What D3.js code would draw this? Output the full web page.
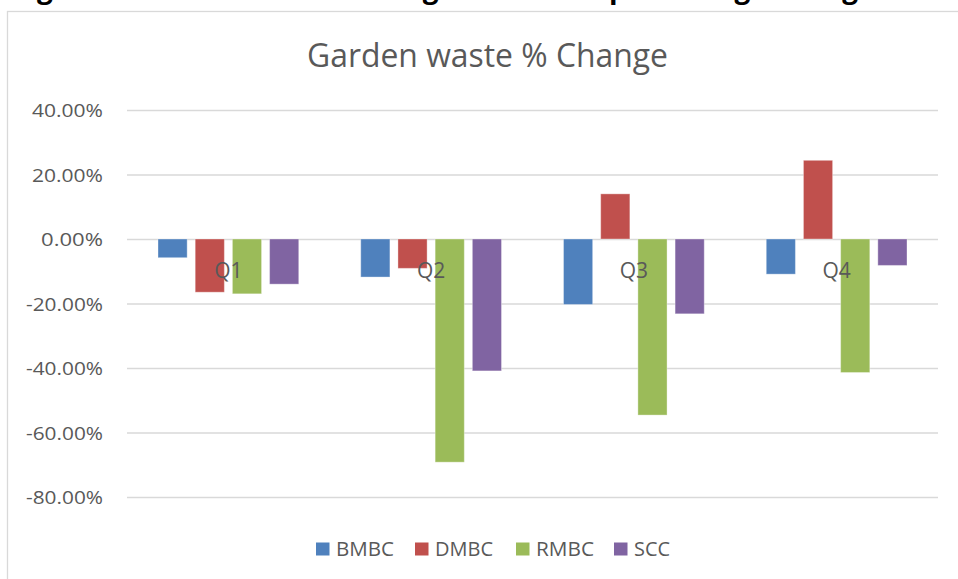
<!DOCTYPE html>
<html>
<head>
<meta charset="utf-8">
<script src="https://cdn.jsdelivr.net/npm/d3@7"></script>
<style>
  html, body { margin: 0; padding: 0; background: #fff; }
  svg { display: block; }
  text { font-family: "Open Sans", "Liberation Sans", sans-serif; }
</style>
</head>
<body>
<svg id="chart" width="958" height="579"></svg>
<script>
// ---- data ----
const categories = ["Q1", "Q2", "Q3", "Q4"];
const seriesNames = ["BMBC", "DMBC", "RMBC", "SCC"];
const BMBC = [-5.8, -11.8, -20.3, -10.9];
const DMBC = [-16.5, -9.1, 14.0, 24.4];
const RMBC = [-17.0, -69.2, -54.6, -41.4];
const SCC  = [-14.0, -40.9, -23.2, -8.2];
const tickValues = [40, 20, 0, -20, -40, -60, -80];
const seriesColors = ["#4F81BD", "#C0504D", "#9BBB59", "#8064A2"];
const chartTitle = "Garden waste % Change";
const captionParts = ["Figure 6: Garden waste tonnage \u2013", "percentage change"];

const seriesValues = [BMBC, DMBC, RMBC, SCC];
const rows = categories.map((c, i) => ({
  cat: c,
  vals: seriesNames.map((s, j) => ({ series: s, value: seriesValues[j][i], color: seriesColors[j] }))
}));

const svg = d3.select("#chart");
const W = 958, H = 579;
const grey = "#595959";

// caption (only its descenders show at the top edge, as in the reference)
const capTargets = [{ idx: 2, x: 37 }, { idx: 0, x: 609 }];
captionParts.forEach((t, k) => {
  const el = svg.append("text")
    .attr("y", -2.5)
    .attr("font-size", 28)
    .attr("font-weight", "bold")
    .attr("fill", "#000")
    .text(t);
  const node = el.node();
  let off = 0;
  try { off = node.getStartPositionOfChar(capTargets[k].idx).x; } catch (e) { off = 0; }
  el.attr("x", capTargets[k].x - off);
});

// chart border
svg.append("rect")
  .attr("x", 7.5).attr("y", 11.5)
  .attr("width", W).attr("height", H)
  .attr("fill", "#fff")
  .attr("stroke", "#d9d9d9").attr("stroke-width", 1.3);

// scales
const plotLeft = 127, plotRight = 938;
const x0 = d3.scaleBand().domain(categories).range([plotLeft, plotRight]).paddingInner(0).paddingOuter(0);
const catW = x0.bandwidth();
const outerGap = 31;
const x1 = d3.scaleBand().domain(seriesNames).range([outerGap, catW - outerGap]).paddingInner(0.216).paddingOuter(0);
const y = d3.scaleLinear().domain([-80, 40]).range([497, 110]);

// gridlines + ticks via axis
const yAxis = d3.axisLeft(y)
  .tickValues(tickValues)
  .tickFormat(d => d.toFixed(2) + "%")
  .tickSize(-(plotRight - plotLeft))
  .tickPadding(24);

const gAxis = svg.append("g")
  .attr("transform", `translate(${plotLeft},0)`)
  .call(yAxis);
gAxis.select(".domain").remove();
gAxis.selectAll(".tick line").attr("stroke", "#d9d9d9").attr("stroke-width", 1.3);
gAxis.selectAll(".tick text")
  .attr("fill", grey)
  .attr("font-size", 18.5)
  .attr("font-family", "'Open Sans', sans-serif")
  .attr("dy", "0.36em")
  .each(function(d) {
    const target = (d < 0 ? 77 : (d === 0 ? 62 : 71));
    d3.select(this).attr("textLength", target).attr("lengthAdjust", "spacingAndGlyphs");
  });

// bars
const gCat = svg.append("g").selectAll("g")
  .data(rows)
  .join("g")
  .attr("transform", d => `translate(${x0(d.cat)},0)`);

gCat.selectAll("rect")
  .data(d => d.vals)
  .join("rect")
  .attr("x", d => x1(d.series))
  .attr("width", x1.bandwidth())
  .attr("y", d => y(Math.max(0, d.value)))
  .attr("height", d => Math.abs(y(d.value) - y(0)))
  .attr("fill", d => d.color)
  .attr("stroke", "rgba(255,255,255,0.35)")
  .attr("stroke-width", 1);

// category labels (drawn just below the zero line)
svg.append("g").selectAll("text")
  .data(categories)
  .join("text")
  .attr("x", d => x0(d) + catW / 2)
  .attr("y", y(0) + 39)
  .attr("text-anchor", "middle")
  .attr("font-size", 21)
  .attr("fill", grey)
  .text(d => d);

// title
svg.append("text")
  .attr("x", 487.5)
  .attr("y", 67)
  .attr("text-anchor", "middle")
  .attr("font-size", 32)
  .attr("fill", grey)
  .attr("textLength", 361)
  .attr("lengthAdjust", "spacingAndGlyphs")
  .text(chartTitle);

// legend
const legendX = [316, 415, 516, 614];
const legendW = [58, 58, 58, 36];
const lg = svg.append("g").selectAll("g")
  .data(seriesNames)
  .join("g")
  .attr("transform", (d, i) => `translate(${legendX[i]},0)`);
lg.append("rect")
  .attr("x", 0).attr("y", 542.5)
  .attr("width", 13.5).attr("height", 13)
  .attr("fill", (d, i) => seriesColors[i]);
lg.append("text")
  .attr("x", 20)
  .attr("y", 556)
  .attr("font-size", 20)
  .attr("fill", grey)
  .attr("textLength", (d, i) => legendW[i])
  .attr("lengthAdjust", "spacingAndGlyphs")
  .text(d => d);
</script>
</body>
</html>
